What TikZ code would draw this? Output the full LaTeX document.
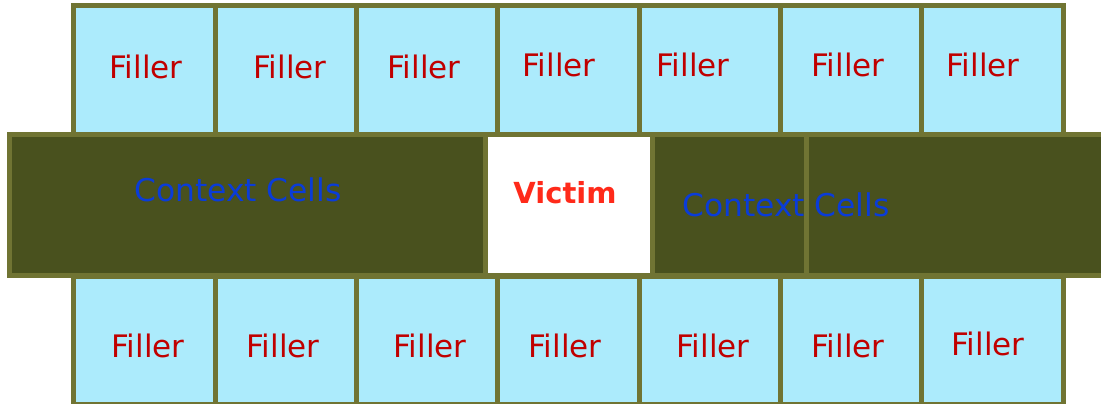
\documentclass[tikz,border=0pt]{standalone}
\usepackage{fontspec}
\setmainfont{DejaVu Sans}
\usepackage{xcolor}
\usetikzlibrary{positioning}

\definecolor{cellfill}{HTML}{ACEBFC}
\definecolor{cellline}{HTML}{707433}
\definecolor{ctxfill}{HTML}{49511E}
\definecolor{fillerred}{HTML}{C00000}
\definecolor{victimred}{HTML}{FF2A1A}
\definecolor{ctxblue}{HTML}{0A3CD8}

\begin{document}
\begin{tikzpicture}[
        x=1pt, y=-1pt,
        cell/.style={rectangle, draw=cellline, fill=cellfill, line width=5pt,
            minimum width=141.3pt, minimum height=128pt, inner sep=0pt, outer sep=0pt},
        row/.style={rectangle, draw=cellline, fill=ctxfill, line width=5pt,
            minimum height=141pt, inner sep=0pt, outer sep=0pt},
        filler/.style={anchor=base, text=fillerred, font=\fontsize{31}{37}\selectfont},
        ctxlbl/.style={anchor=base, text=ctxblue, font=\fontsize{31.3}{37}\selectfont},
        victimlbl/.style={anchor=base, text=victimred, font=\fontsize{29}{35}\selectfont\bfseries}
    ]
        \useasboundingbox (0,0) rectangle (1101,404);

        % top row
        \node[cell] (t1) at (144.6,70) {};
        \node[cell] (t2) at (285.9,70) {};
        \node[cell] (t3) at (427.2,70) {};
        \node[cell] (t4) at (568.5,70) {};
        \node[cell] (t5) at (709.8,70) {};
        \node[cell] (t6) at (851.1,70) {};
        \node[cell] (t7) at (992.4,70) {};

        % bottom row
        \node[cell] (b1) at (144.6,340) {};
        \node[cell] (b2) at (285.9,340) {};
        \node[cell] (b3) at (427.2,340) {};
        \node[cell] (b4) at (568.5,340) {};
        \node[cell] (b5) at (709.8,340) {};
        \node[cell] (b6) at (851.1,340) {};
        \node[cell] (b7) at (992.4,340) {};

        % middle row
        \node[row, minimum width=476pt] (ctxL) at (247,205) {};
        \node[row, fill=white, minimum width=167pt] (victim) at (568.5,205) {};
        \node[row, minimum width=154pt] (ctxR1) at (729,205) {};
        \node[row, minimum width=324pt] (ctxR2) at (968,205) {};

        % labels
        \node[filler] (lt1) at (146,78) {Filler};
        \node[filler] (lt2) at (290,78) {Filler};
        \node[filler] (lt3) at (424,78) {Filler};
        \node[filler] (lt4) at (559,77) {Filler};
        \node[filler] (lt5) at (693,77) {Filler};
        \node[filler] (lt6) at (848,77) {Filler};
        \node[filler] (lt7) at (983,77) {Filler};

        \node[filler] (lb1) at (148,357) {Filler};
        \node[filler] (lb2) at (283,357) {Filler};
        \node[filler] (lb3) at (430,357) {Filler};
        \node[filler] (lb4) at (565,357) {Filler};
        \node[filler] (lb5) at (713,357) {Filler};
        \node[filler] (lb6) at (848,357) {Filler};
        \node[filler] (lb7) at (988,355) {Filler};

        \node[ctxlbl] (lctxL) at (238,201) {Context Cells};
        \node[ctxlbl] (lctxR) at (786,216) {Context Cells};
        \node[victimlbl] (lvictim) at (565,203) {Victim};

        \draw[cellline, line width=5pt] (ctxR2.north west) -- (ctxR2.south west);
    \end{tikzpicture}
\end{document}
